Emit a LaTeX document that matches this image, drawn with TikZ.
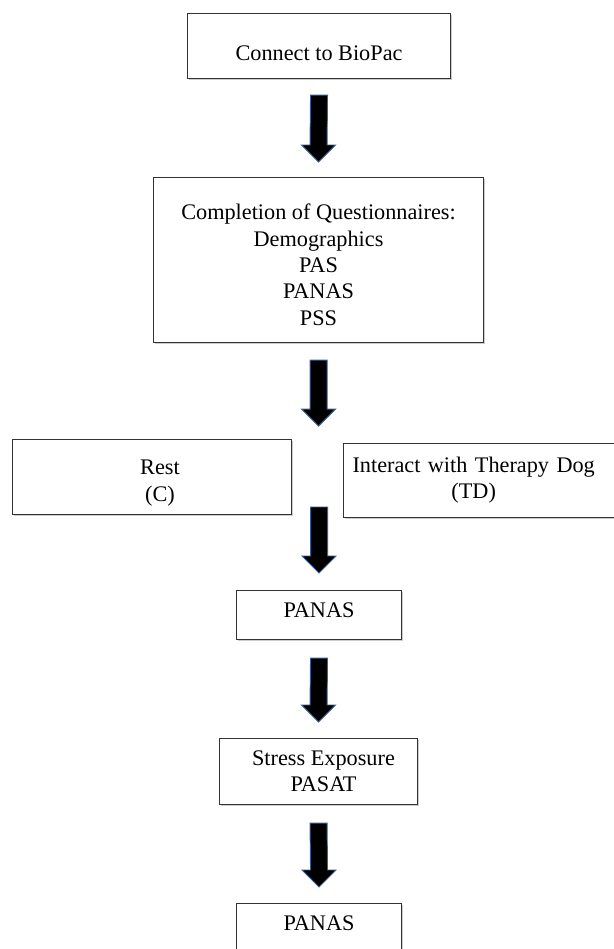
\documentclass[tikz,border=0pt]{standalone}
\usepackage{fontspec}
\setmainfont{Liberation Serif}
\usetikzlibrary{calc,shadows}
\definecolor{L}{RGB}{51, 51, 51}
\definecolor{A}{RGB}{60, 95, 155}

\tikzset{
  procbox/.style={draw=L, line width=0.9pt, fill=white, anchor=north west, align=center,
    font=\fontsize{19}{22.5}\selectfont,
    drop shadow={shadow xshift=1.2pt, shadow yshift=-1.5pt, opacity=0.2, fill=black}},
  blockarr/.style={draw=A, line width=0.8pt, fill=black, line join=miter}
}

% flecha gruesa hacia abajo: #1 inicio, #2 punta
\newcommand{\blockarrow}[2]{%
  \draw[blockarr] ($(#1)+(-8.5,0)$) -- ($(#2)+(-8.5,-17)$) -- ($(#2)+(-17,-17)$) -- (#2)
    -- ($(#2)+(17,-17)$) -- ($(#2)+(8.5,-17)$) -- ($(#1)+(8.5,0)$) -- cycle;}
% bajar / subir el texto dentro de la caja
\newcommand{\up}[1]{\rule{0pt}{#1}}
\newcommand{\dn}[1]{\rule[-#1]{0pt}{#1}}

\begin{document}
\begin{tikzpicture}[x=0.03cm, y=-0.03cm]
  \useasboundingbox[fill=white] (0,0) rectangle (613,949);

  % Cajas
  \node[procbox, minimum width=7.89cm, minimum height=1.95cm] (bio) at (187,13) {\up{25pt}Connect to BioPac};
  \node[procbox, minimum width=9.9cm, minimum height=4.95cm] (quest) at (153,177)
    {\up{21.5pt}Completion of Questionnaires:\\Demographics\\PAS\\PANAS\\PSS};
  \node[procbox, minimum width=8.37cm, minimum height=2.25cm] (rest) at (12,439)
    {\up{23pt}\hspace*{13.6pt}Rest\\\hspace*{13.6pt}(C)};
  \node[procbox, text width=8.4cm, inner xsep=0.27cm, minimum height=2.22cm, align=left] (td) at (343,443)
    {\begin{tabular}{@{}c@{}}Interact with Therapy Dog\\(TD)\end{tabular}};
  \node[procbox, minimum width=4.95cm, minimum height=1.47cm] (panasA) at (236,590) {PANAS\dn{7.7pt}};
  \node[procbox, minimum width=5.94cm, minimum height=1.98cm] (stress) at (219,738)
    {\hspace*{8.5pt}Stress Exposure\\\hspace*{8.5pt}PASAT};
  \node[procbox, minimum width=4.95cm, minimum height=1.47cm] (panasB) at (236,903) {PANAS\dn{7.7pt}};

  % Puntos de las flechas
  \coordinate (a1s) at ($(bio.south)+(0,16)$);
  \coordinate (a1e) at ($(quest.north)+(0,-15)$);
  \coordinate (a2s) at ($(quest.south)+(0,17)$);
  \coordinate (a2e) at ($(a2s)+(0,66)$);
  \coordinate (a3e) at ($(panasA.north)+(0,-17)$);
  \coordinate (a3s) at ($(a3e)+(0,-66)$);
  \coordinate (a4s) at ($(panasA.south)+(0,18)$);
  \coordinate (a4e) at ($(stress.north)+(0,-16)$);
  \coordinate (a5s) at ($(stress.south)+(0,18)$);
  \coordinate (a5e) at ($(panasB.north)+(0,-16)$);

  % Flechas
  \blockarrow{a1s}{a1e}
  \blockarrow{a2s}{a2e}
  \blockarrow{a3s}{a3e}
  \blockarrow{a4s}{a4e}
  \blockarrow{a5s}{a5e}
\end{tikzpicture}
\end{document}
